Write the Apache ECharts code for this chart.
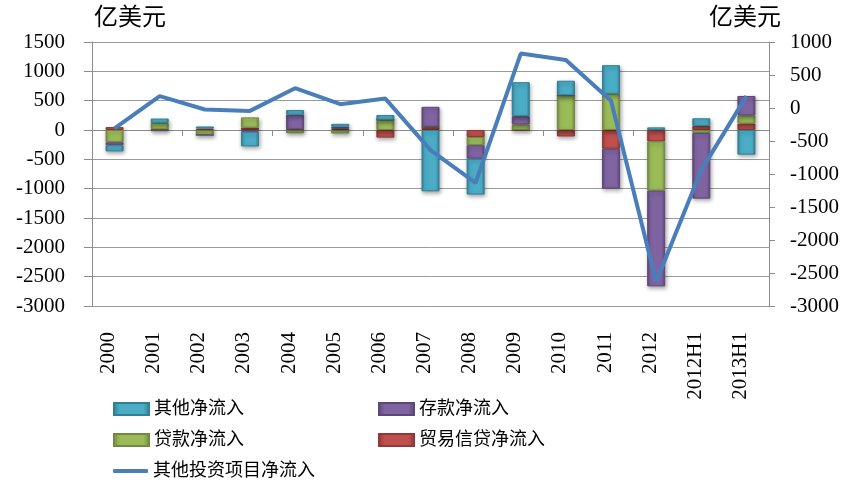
<!DOCTYPE html>
<html>
<head>
<meta charset="utf-8">
<script src="https://cdn.jsdelivr.net/npm/echarts@6/dist/echarts.min.js"></script>
<style>
html,body{margin:0;padding:0;background:#fff;}
#chart{width:848px;height:488px;}
</style>
</head>
<body>
<div id="chart"></div>
<script>
var categories = ['2000','2001','2002','2003','2004','2005','2006','2007','2008','2009','2010','2011','2012','2012H1','2013H1'];
var tradeCredit = [50, 10, 25, 40, 10, 20, -130, 55, -120, 0, -110, -320, -195, 70, 110];
var loans = [-210, 110, -85, 175, -55, -60, 175, 0, -140, 95, 590, 615, -840, -50, 140];
var deposits = [-50, -20, 0, -30, 250, 35, 0, 340, -230, 140, 0, -680, -1630, -1120, 330];
var others = [-105, 75, 35, -250, 80, 50, 80, -1045, -610, 580, 250, 490, 45, 130, -420];
var totalOther = [-310, 179, -23, -44, 300, 57, 143, -639, -1133, 825, 728, 110, -2631, -941, 180];
var unitLabel = '亿美元';
var names = ['其他净流入', '存款净流入', '贷款净流入', '贸易信贷净流入', '其他投资项目净流入'];

var FONT = "'Liberation Serif', 'Noto Sans CJK SC', serif";
var chart = echarts.init(document.getElementById('chart'));

function barGrad(base, dark) {
  return new echarts.graphic.LinearGradient(0, 0, 1, 0, [
    {offset: 0, color: dark},
    {offset: 0.18, color: base},
    {offset: 0.82, color: base},
    {offset: 1, color: dark}
  ]);
}
function barSeries(name, data, base, dark) {
  return {
    name: name, type: 'bar', stack: 'total', data: data,
    xAxisIndex: 0, yAxisIndex: 0, barWidth: 18,
    itemStyle: {
      color: barGrad(base, dark), borderColor: dark, borderWidth: 1,
      shadowColor: 'rgba(0,0,0,0.35)', shadowBlur: 4, shadowOffsetX: 1, shadowOffsetY: 2
    }
  };
}
function legendItem(name, left, top, isLine) {
  return {
    data: [{name: name, icon: isLine ? 'roundRect' : 'rect'}],
    left: left, top: top, padding: 0,
    itemWidth: 35, itemHeight: isLine ? 4 : 12, itemGap: 0,
    textStyle: {fontFamily: FONT, fontSize: 18, color: '#000'},
    selectedMode: false
  };
}
function plain(v) { return String(v); }

var option = {
  animation: false,
  backgroundColor: '#fff',
  title: [
    {text: unitLabel, left: 94, top: 7, padding: 0, textStyle: {fontFamily: FONT, fontSize: 24, fontWeight: 'normal', color: '#000'}},
    {text: unitLabel, left: 709, top: 7, padding: 0, textStyle: {fontFamily: FONT, fontSize: 24, fontWeight: 'normal', color: '#000'}}
  ],
  legend: [
    legendItem(names[0], 113, 400),
    legendItem(names[1], 378, 400),
    legendItem(names[2], 113, 431),
    legendItem(names[3], 378, 431),
    legendItem(names[4], 113, 462, true)
  ],
  grid: {left: 92, right: 79, top: 42, bottom: 182, containLabel: false},
  xAxis: [
    {
      type: 'category', data: categories, position: 'bottom',
      axisLine: {show: false, onZero: false}, axisTick: {show: false},
      axisLabel: {rotate: 90, margin: 26, fontFamily: FONT, fontSize: 21, color: '#000', verticalAlign: 'bottom', lineHeight: 12}
    },
    {
      type: 'category', data: categories, position: 'bottom',
      axisLine: {show: true, onZero: true, onZeroAxisIndex: 0, lineStyle: {color: '#8c8c8c', width: 1}},
      axisTick: {show: true, length: 6, lineStyle: {color: '#8c8c8c'}},
      axisLabel: {show: false}
    }
  ],
  yAxis: [
    {
      type: 'value', min: -3000, max: 1500, interval: 500, position: 'left',
      axisLine: {show: true, lineStyle: {color: '#8c8c8c'}},
      axisTick: {show: true, length: 8, lineStyle: {color: '#8c8c8c'}},
      axisLabel: {margin: 27, fontFamily: FONT, fontSize: 21, color: '#000', formatter: plain},
      splitLine: {show: true, lineStyle: {color: '#9a9a9a', width: 1}}
    },
    {
      type: 'value', min: -3000, max: 1000, interval: 500, position: 'right',
      axisLine: {show: true, lineStyle: {color: '#8c8c8c'}},
      axisTick: {show: true, length: 6, lineStyle: {color: '#8c8c8c'}},
      axisLabel: {margin: 21, fontFamily: FONT, fontSize: 21, color: '#000', formatter: plain},
      splitLine: {show: false}
    }
  ],
  series: [
    barSeries(names[3], tradeCredit, '#C0504D', '#8E3A38'),
    barSeries(names[2], loans, '#9BBB59', '#718A40'),
    barSeries(names[1], deposits, '#8064A2', '#5C4876'),
    barSeries(names[0], others, '#4BACC6', '#317F93'),
    {
      name: names[4], type: 'line', data: totalOther,
      xAxisIndex: 0, yAxisIndex: 1, symbol: 'none', showSymbol: false, z: 10,
      lineStyle: {color: '#4A7EBB', width: 4},
      itemStyle: {color: '#4A7EBB'}
    }
  ]
};
chart.setOption(option);
</script>
</body>
</html>
